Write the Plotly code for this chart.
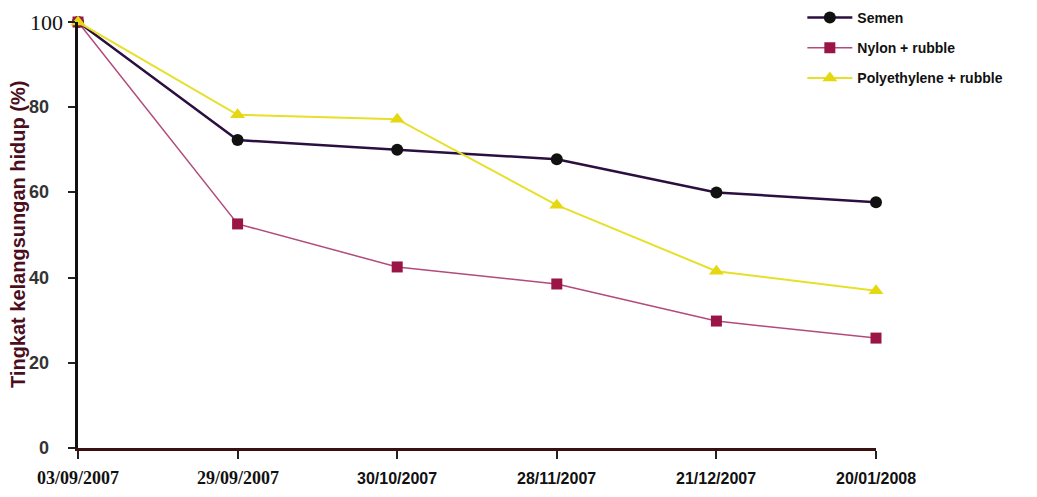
import plotly.graph_objects as go

dates = ["03/09/2007", "29/09/2007", "30/10/2007", "28/11/2007", "21/12/2007", "20/01/2008"]
semen = [100, 72.3, 70.0, 67.8, 60.0, 57.7]
nylon = [100, 52.6, 42.5, 38.5, 29.8, 25.8]
poly = [100, 78.2, 77.2, 57.0, 41.5, 36.9]

y_ticks = [0, 20, 40, 60, 80, 100]

x_pos = list(range(len(dates)))

serif = "Liberation Serif"
sans = "Liberation Sans, Arial"

fig = go.Figure()
fig.add_trace(go.Scatter(
    x=x_pos, y=semen, name="<b>Semen</b>", mode="lines+markers", legendgroup="a",
    line=dict(color="#2b0f3f", width=2.5), cliponaxis=False,
    marker=dict(symbol="circle", size=12, color="#111111"),
))
fig.add_trace(go.Scatter(
    x=x_pos, y=nylon, name="<b>Nylon + rubble</b>", mode="lines+markers", legendgroup="b",
    line=dict(color="#b24a7c", width=1.5), cliponaxis=False,
    marker=dict(symbol="square", size=11, color="#9a1545"),
))
fig.add_trace(go.Scatter(
    x=x_pos, y=poly, name="<b>Polyethylene + rubble</b>", mode="lines+markers", legendgroup="c",
    line=dict(color="#e6e02a", width=2), cliponaxis=False,
    marker=dict(symbol="triangle-up", size=13, color="#e6d810"),
))

# x tick labels as annotations (mixed fonts as in the reference)
for i, d in enumerate(dates):
    if i < 2:
        f = dict(family=serif, size=18, color="#111111")
    else:
        f = dict(family=sans, size=16, color="#111111")
    fig.add_annotation(x=x_pos[i], y=0, xref="x", yref="paper", text=f"<b>{d}</b>",
                       showarrow=False, yanchor="middle", xanchor="center", yshift=-30, font=f)

# y tick labels: 100 in serif, others in bold sans
for v in y_ticks:
    if v == 100:
        f = dict(family=serif, size=22, color="#111111")
        txt = str(v)
        xs = -13
    else:
        f = dict(family=sans, size=18, color="#333333")
        txt = f"<b>{v}</b>"
        xs = -27
    fig.add_annotation(x=0, y=v, xref="paper", yref="y", text=txt, showarrow=False,
                       xanchor="right", yanchor="middle", xshift=xs, font=f)

fig.update_layout(
    width=1037, height=497,
    paper_bgcolor="white", plot_bgcolor="white",
    margin=dict(l=70, r=169, t=14, b=57, autoexpand=False),
    font=dict(family=sans, color="#222222"),
    legend=dict(
        x=0.766, y=1.047, xref="container", yref="paper", xanchor="left", yanchor="top",
        font=dict(family=sans, size=14, color="#111111"),
        bgcolor="rgba(0,0,0,0)", itemwidth=45, tracegroupgap=9,
    ),
    showlegend=True,
)
fig.update_xaxes(
    range=[0, len(dates) - 1], tickmode="array", tickvals=x_pos, showticklabels=False,
    showgrid=False, zeroline=False, showline=True, linecolor="#3a1010", linewidth=2.5,
    ticks="outside", ticklen=8, tickwidth=2, tickcolor="#222",
)
fig.update_yaxes(
    range=[0, 100], tickmode="array", tickvals=y_ticks, showticklabels=False,
    showgrid=False, zeroline=False, showline=True, linecolor="#111111", linewidth=2.5,
    ticks="outside", ticklen=7, tickwidth=2, tickcolor="#222",
)
fig.add_annotation(x=0, y=0.5, xref="paper", yref="paper", xshift=-60, textangle=-90,
                   text="<b>Tingkat kelangsungan hidup (%)</b>", showarrow=False,
                   xanchor="center", yanchor="middle",
                   font=dict(family=sans, size=20, color="#4a0f1e"))

fig.write_html("out.html")
